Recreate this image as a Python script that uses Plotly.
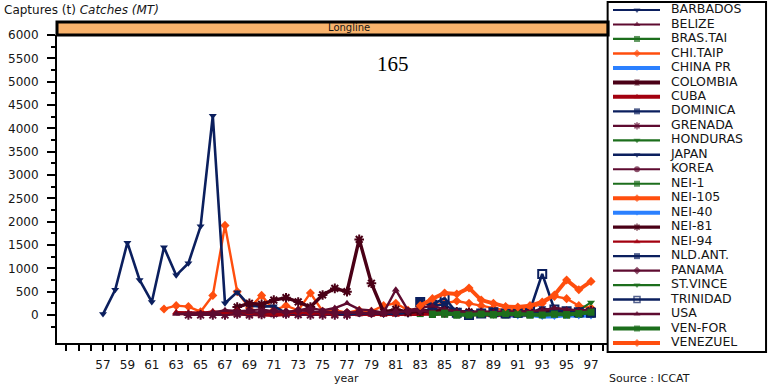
import plotly.graph_objects as go

# ---------------- data (years are two-digit, 57 = 1957) ----------------
names = ["BARBADOS", "BELIZE", "BRAS.TAI", "CHI.TAIP", "CHINA PR", "COLOMBIA", "CUBA",
         "DOMINICA", "GRENADA", "HONDURAS", "JAPAN", "KOREA", "NEI-1", "NEI-105",
         "NEI-40", "NEI-81", "NEI-94", "NLD.ANT.", "PANAMA", "ST.VINCE", "TRINIDAD",
         "USA", "VEN-FOR", "VENEZUEL"]

BARBADOS_START = 80
BARBADOS = [10, 20, 10, 30, 20, 40, 30, 20, 10, 20, 30, 20, 10, 20, 30, 40, 20, 30]
BELIZE_START = 88
BELIZE = [20, 30, 40, 50, 30, 20, 60, 40, 30, 50]
BRAS_TAI_START = 83
BRAS_TAI = [30, 10, 20, 0, 10, 20, 10, 0, 10, 0, 20, 10, 0, 10, 20]
CHI_TAIP_START = 62
CHI_TAIP = [130, 200, 180, 70, 420, 1920, 500, 150, 420, 100, 200, 100, 470, 80, 100, 50,
            100, 80, 200, 250, 100, 150, 200, 250, 300, 250, 200, 150, 100, 120, 150, 250,
            400, 350, 200, 150]
CHINA_PR_START = 89
CHINA_PR = [10, 0, -20, 10, -30, -30, 0, -20, 10]
COLOMBIA_START = 86
COLOMBIA = [40, 60, 30, 50, 40, 30, 20, 50, 40, 30, 60, 40]
CUBA_START = 63
CUBA = [40, 30, 20, 30, 40, 30, 0, 0, 0, 20, 20, 10, 0, 0, 0, 10, 0, 0, 0, 10, 20, 30, 40,
        30, 20, 0, 0, 10, 20, 10, 0, 0, 10, 0, 0]
DOMINICA_START = 83
DOMINICA = [280, 200, 220, 60, 20, 10, 30, 20, 10, 40, 60, 30, 20, 30, 40]
GRENADA_START = 64
GRENADA = [0, 0, 0, 0, 20, 0, 10, 30, 20, 10, 0, 0, 0, 0]
HONDURAS_START = 84
HONDURAS = [10, 30, 20, 0, 10, 0, 20, 10, 0, 30, 20, 10, 20, 40]
JAPAN_START = 57
JAPAN = [20, 540, 1550, 750, 280, 1450, 850, 1110, 1900, 4270, 250, 490, 200, 180, 190, 40,
         30, 60, 30, 20, 30, 20, 40, 30, 20, 50, 80, 120, 100, 40, 20, 30, 20, 20, 30, 40,
         150, 80, 60, 40, 50]
KOREA_START = 66
KOREA = [30, 60, 80, 100, 120, 80, 60, 50, 40, 80, 60, 50, 40, 30, 50, 60, 80, 70, 50, 40,
         60, 50, 40, 60, 80, 60, 50, 40, 60, 50, 40, 50]
NEI_1_START = 85
NEI_1 = [20, 0, 30, 10, 0, 20, 10, 0, 10, 20, 0, 10, 20]
NEI_105_START = 90
NEI_105 = [40, 60, 80, 50, 100, 60, 40, 80]
NEI_40_START = 92
NEI_40 = [0, -20, 10, -10, 0, -20]
NEI_81_START = 68
NEI_81 = [170, 250, 230, 320, 370, 280, 170, 430, 570, 500, 1620, 680, 60, 120, 60, 80, 100,
          90, 70, 60, 50, 60, 40, 60, 50, 70, 80, 60, 70, 90]
NEI_94_START = 63
NEI_94 = [60, 50, 40, 80, 60, 100, 40, 30, 20, 30, 50, 40, 30, 20]
NLD_ANT_START = 85
NLD_ANT = [60, 40, 30, 20, 40, 30, 20, 30, 50, 40, 30, 40, 30]
PANAMA_START = 70
PANAMA = [50, 80, 60, 100, 80, 60, 40, 50, 60, 30, 40, 60, 80, 100, 60, 40]
ST_VINCE_START = 86
ST_VINCE = [0, 20, 10, 0, 10, 20, 10, 0, 20, 30, 100, 270]
TRINIDAD_START = 83
TRINIDAD = [280, 220, 360, 50, 0, 30, 60, 30, 50, 100, 880, 120, 80, 60, 50]
USA_START = 63
USA = [20, 30, 40, 50, 100, 80, 60, 50, 80, 60, 100, 150, 100, 150, 250, 120, 100, 50, 540,
       100, 150, 200, 120, 80, 60, 80, 60, 80, 70, 80, 100, 150, 120, 100, 120]
VEN_FOR_START = 84
VEN_FOR = [20, 40, 10, 0, 20, 10, 30, 20, 10, 0, 20, 10, 30, 60]
VENEZUEL_START = 83
VENEZUEL = [200, 350, 470, 450, 580, 320, 250, 180, 170, 200, 280, 430, 750, 540, 720]

series = [
    (BARBADOS_START, BARBADOS), (BELIZE_START, BELIZE), (BRAS_TAI_START, BRAS_TAI),
    (CHI_TAIP_START, CHI_TAIP), (CHINA_PR_START, CHINA_PR), (COLOMBIA_START, COLOMBIA),
    (CUBA_START, CUBA), (DOMINICA_START, DOMINICA), (GRENADA_START, GRENADA),
    (HONDURAS_START, HONDURAS), (JAPAN_START, JAPAN), (KOREA_START, KOREA),
    (NEI_1_START, NEI_1), (NEI_105_START, NEI_105), (NEI_40_START, NEI_40),
    (NEI_81_START, NEI_81), (NEI_94_START, NEI_94), (NLD_ANT_START, NLD_ANT),
    (PANAMA_START, PANAMA), (ST_VINCE_START, ST_VINCE), (TRINIDAD_START, TRINIDAD),
    (USA_START, USA), (VEN_FOR_START, VEN_FOR), (VENEZUEL_START, VENEZUEL),
]

x_tick_years = list(range(57, 98, 2))
x_tick_labels = [str(v) for v in x_tick_years]
y_tick_vals = list(range(0, 6001, 500))
y_tick_labels = [str(v) for v in y_tick_vals]

# ---------------- styles ----------------
NAVY = "#0b1f5e"
MAROON = "#5e0b30"
GREEN = "#1c6e1c"
ORANGE = "#ff4e0e"
BLUE = "#2b80ff"
DBROWN = "#4a0016"
DRED = "#a3000f"

colors = [NAVY, MAROON, GREEN, ORANGE, BLUE, DBROWN, DRED, NAVY, MAROON, GREEN, NAVY,
          MAROON, GREEN, ORANGE, BLUE, DBROWN, DRED, NAVY, MAROON, GREEN, NAVY, MAROON,
          GREEN, ORANGE]
widths = [2.2, 2.2, 2.2, 2.4, 4, 4, 4, 2.2, 2.2, 2.2, 2.6, 2.2, 2.2, 4, 4, 3.4, 2.2, 2.2,
          2.2, 2.2, 2.6, 2.4, 4, 4]
symbols = ["triangle-down", "triangle-up", "square", "diamond", "triangle-down",
           "hourglass", "triangle-up", "square", "asterisk-open", "triangle-down",
           "triangle-down", "circle", "square", "diamond", "triangle-down",
           "asterisk-open", "triangle-up", "square", "diamond", "triangle-down",
           "square-open", "triangle-up", "square", "diamond"]

W, H = 769, 385
ML, MR, MT, MB = 57, 2, 1, 32
PW, PH = W - ML - MR, H - MT - MB


def px(x):
    return (x - ML) / PW


def py(y):
    return (H - MB - y) / PH


FONT = "DejaVu Sans"
TXT = "#151515"

fig = go.Figure()

for (start, vals), name, col, w, sym in zip(series, names, colors, widths, symbols):
    open_sym = sym.endswith("open")
    fig.add_trace(go.Scatter(
        x=[start + i for i in range(len(vals))], y=vals, mode="lines+markers",
        name=name, line=dict(color=col, width=w),
        marker=dict(symbol=sym, size=7 if not open_sym else 8, color=col,
                    line=dict(color=col, width=2 if open_sym else 0)),
        xaxis="x", yaxis="y", showlegend=False, hoverinfo="skip", cliponaxis=False))

# ---------------- hand-made legend on its own axes ----------------
n = len(names)
offs = [9 + i * (333 / (n - 1)) for i in range(n)]
for name, col, w, sym, yo in zip(names, colors, widths, symbols, offs):
    open_sym = sym.endswith("open")
    fig.add_trace(go.Scatter(
        x=[6, 30, 53], y=[yo, yo, yo], mode="lines+markers",
        line=dict(color=col, width=w),
        marker=dict(symbol=sym, size=[0, 6, 0], color=col,
                    line=dict(color=col, width=1.5 if open_sym else 0)),
        xaxis="x2", yaxis="y2", showlegend=False, hoverinfo="skip"))
fig.add_trace(go.Scatter(
    x=[64] * n, y=offs, mode="text", text=names, textposition="middle right",
    textfont=dict(family=FONT, size=12.5, color=TXT),
    xaxis="x2", yaxis="y2", showlegend=False, hoverinfo="skip"))

fig.update_layout(
    width=W, height=H, margin=dict(l=ML, r=MR, t=MT, b=MB, autoexpand=False),
    paper_bgcolor="white", plot_bgcolor="white",
    font=dict(family=FONT, color=TXT),
    xaxis=dict(domain=[0, px(607)], range=[53.23, 98.31], showgrid=False, zeroline=False,
               automargin=False,
               showline=True, linecolor="black", linewidth=2,
               tickmode="array", tickvals=x_tick_years, ticktext=x_tick_labels,
               ticks="outside", ticklen=6, tickwidth=2, tickcolor="black",
               ticklabelstandoff=4,
               minor=dict(tickmode="linear", tick0=57, dtick=1, ticks="outside",
                          ticklen=6, tickwidth=2, tickcolor="black"),
               tickfont=dict(family=FONT, size=12, color=TXT)),
    yaxis=dict(domain=[py(343), py(35)], range=[-600, 6000], showgrid=False,
               zeroline=False, showline=True, linecolor="black", linewidth=2,
               automargin=False,
               tickmode="array", tickvals=y_tick_vals, ticktext=y_tick_labels,
               ticks="outside", ticklen=8, tickwidth=1.5, tickcolor="black",
               ticklabelstandoff=6,
               minor=dict(tickmode="linear", tick0=-250, dtick=500, ticks="outside",
                          ticklen=4, tickwidth=1.5, tickcolor="black"),
               tickfont=dict(family=FONT, size=12, color=TXT)),
    xaxis2=dict(domain=[px(607), 1], range=[0, 160], visible=False, fixedrange=True,
                automargin=False, anchor="y2"),
    yaxis2=dict(domain=[0, 1], range=[352, 0], visible=False, fixedrange=True,
                automargin=False, anchor="x2"),
    shapes=[
        dict(type="rect", xref="x domain", yref="y domain", x0=0, x1=1.002,
             y0=1.0, y1=1 + 13 / 308, fillcolor="#f9b36c",
             line=dict(color="black", width=3), layer="above"),
        dict(type="rect", xref="x2 domain", yref="y2 domain", x0=0.004, x1=0.994,
             y0=0.003, y1=0.997, fillcolor="rgba(0,0,0,0)",
             line=dict(color="black", width=2)),
    ],
    annotations=[
        dict(text="Captures (t) <i>Catches (MT)</i>", xref="paper", yref="paper",
             x=px(2), y=py(10), xanchor="left", yanchor="middle", showarrow=False,
             font=dict(family=FONT, size=12, color=TXT)),
        dict(text="Longline", xref="paper", yref="paper", x=px(349), y=py(28),
             xanchor="center", yanchor="middle", showarrow=False,
             font=dict(family=FONT, size=10, color=TXT)),
        dict(text="165", xref="paper", yref="paper", x=px(393), y=py(64),
             xanchor="center", yanchor="middle", showarrow=False,
             font=dict(family="Liberation Serif", size=21, color="black")),
        dict(text="year", xref="paper", yref="paper", x=px(346), y=py(378),
             xanchor="center", yanchor="middle", showarrow=False,
             font=dict(family=FONT, size=11, color=TXT)),
        dict(text="Source : ICCAT", xref="paper", yref="paper", x=px(607), y=py(378),
             xanchor="left", yanchor="middle", showarrow=False,
             font=dict(family=FONT, size=11, color=TXT)),
    ],
)

fig.write_html("out.html",
               config={"displayModeBar": False},
               post_script="document.body.style.margin='0px';"
                           "document.body.style.overflow='hidden';")
